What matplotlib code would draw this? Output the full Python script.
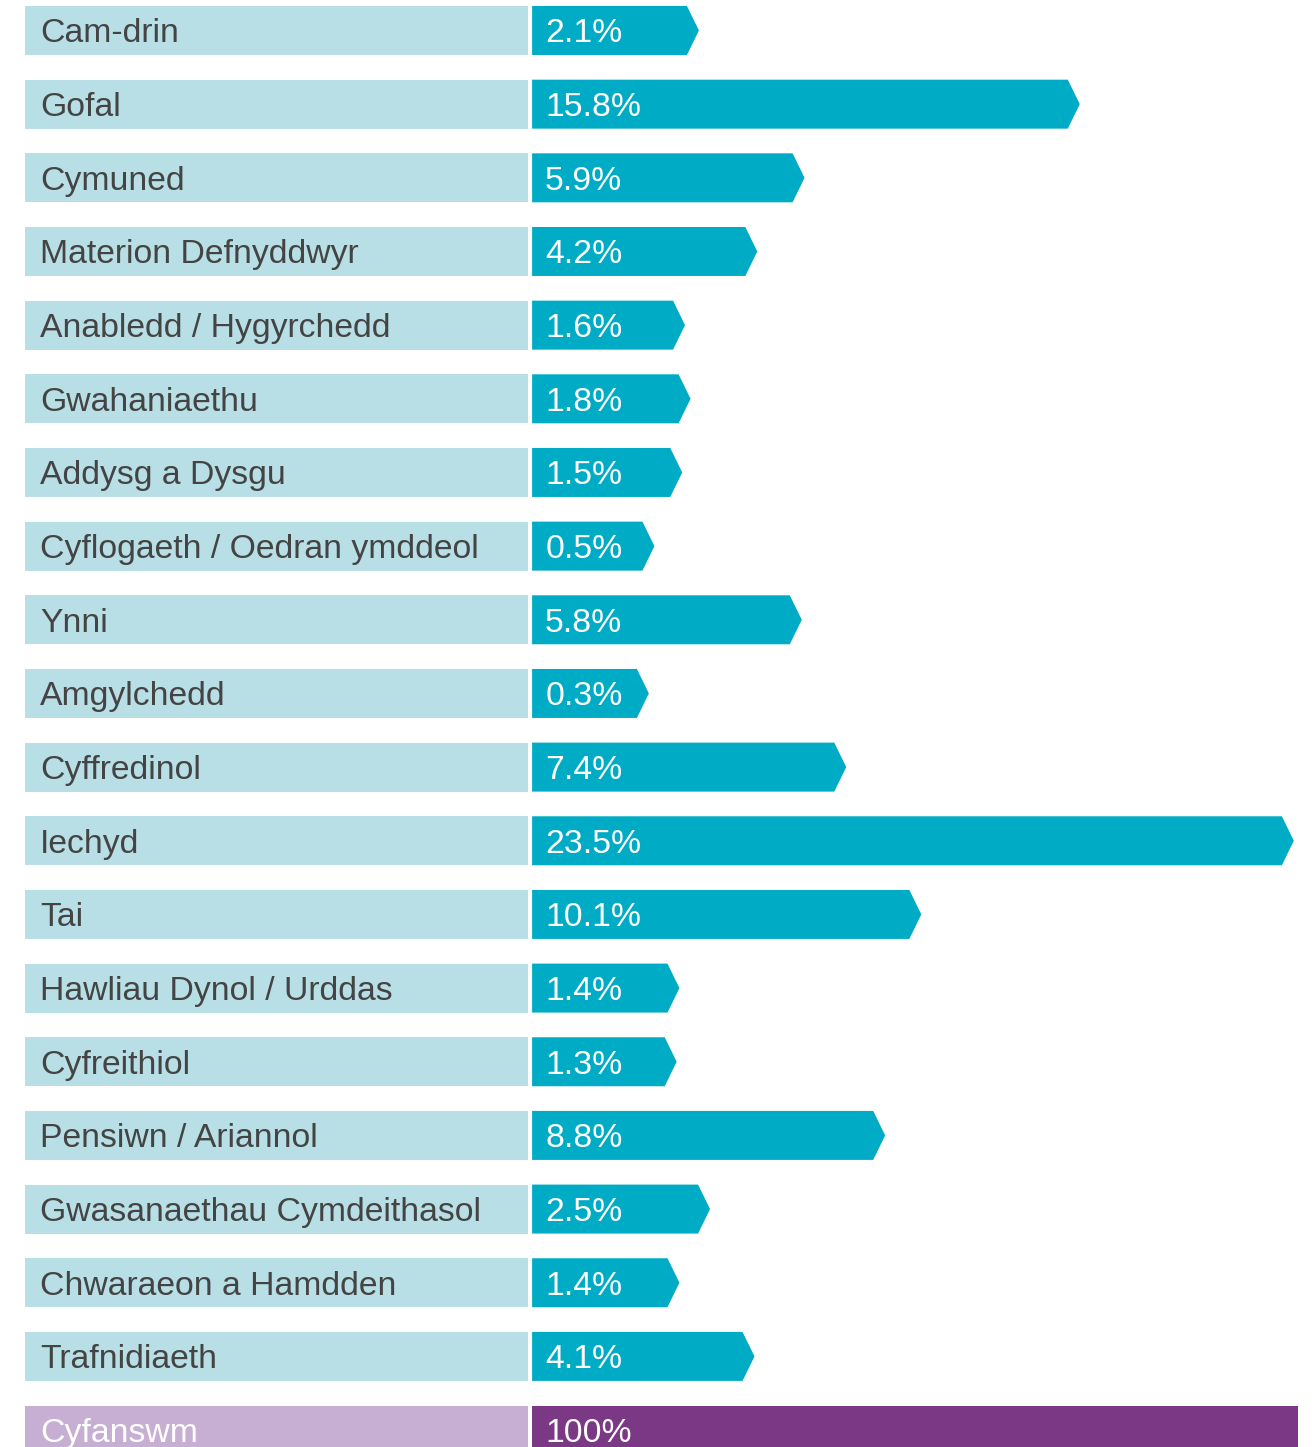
import matplotlib.pyplot as plt
import numpy as np
from matplotlib.patches import Polygon

plt.rcParams['font.family'] = ['Liberation Sans', 'DejaVu Sans']

categories = ['Cam-drin', 'Gofal', 'Cymuned', 'Materion Defnyddwyr',
              'Anabledd / Hygyrchedd', 'Gwahaniaethu', 'Addysg a Dysgu',
              'Cyflogaeth / Oedran ymddeol', 'Ynni', 'Amgylchedd',
              'Cyffredinol', 'Iechyd', 'Tai', 'Hawliau Dynol / Urddas',
              'Cyfreithiol', 'Pensiwn / Ariannol',
              'Gwasanaethau Cymdeithasol', 'Chwaraeon a Hamdden',
              'Trafnidiaeth']
values = [2.1, 15.8, 5.9, 4.2, 1.6, 1.8, 1.5, 0.5, 5.8, 0.3,
          7.4, 23.5, 10.1, 1.4, 1.3, 8.8, 2.5, 1.4, 4.1]
value_labels = ['2.1%', '15.8%', '5.9%', '4.2%', '1.6%', '1.8%', '1.5%',
                '0.5%', '5.8%', '0.3%', '7.4%', '23.5%', '10.1%', '1.4%',
                '1.3%', '8.8%', '2.5%', '1.4%', '4.1%']
total_label = 'Cyfanswm'
total_value = 100
total_text = '100%'

label_col = '#b8dfe6'
bar_col = '#00acc5'
tot_label_col = '#c7aed3'
tot_bar_col = '#7b3885'
text_col = '#444444'

base = 3.9      # minimum bar length so the value text fits
tip = 0.43      # depth of the arrow point
h = 0.665       # bar height (row pitch = 1)
lab_left, lab_right = -18.24, -0.14
dy = 0.045      # nudge text down a little

fig = plt.figure(figsize=(13.16, 14.47), dpi=100)
ax = fig.add_axes([0, 0, 1298 / 1316, 1])
ax.set_xlim(-19.14, 27.55)
ax.set_ylim(19.23, -0.414)
ax.axis('off')

n = len(categories)
y = np.arange(n)
fs = 24.3

ax.barh(y, lab_right - lab_left, left=lab_left, height=h, color=label_col)
for yi, v, cat, vl in zip(y, values, categories, value_labels):
    end = v + base
    poly = Polygon([(0, yi - h / 2), (end - tip, yi - h / 2), (end, yi),
                    (end - tip, yi + h / 2), (0, yi + h / 2)],
                   closed=True, facecolor=bar_col, edgecolor='none')
    ax.add_patch(poly)
    ax.text(lab_left + 0.54, yi + dy, cat, color=text_col, fontsize=fs,
            va='center', ha='left')
    ax.text(0.47, yi + dy, vl, color='white', fontsize=fs,
            va='center', ha='left')

# total row, runs off the bottom of the picture
yt = n
ax.barh(yt, lab_right - lab_left, left=lab_left, height=h, color=tot_label_col)
ax.barh(yt, total_value, left=0, height=h, color=tot_bar_col)
ax.text(lab_left + 0.54, yt + dy, total_label, color='white', fontsize=fs,
        va='center', ha='left')
ax.text(0.47, yt + dy, total_text, color='white', fontsize=fs,
        va='center', ha='left')

plt.savefig('out.png', dpi=100)
